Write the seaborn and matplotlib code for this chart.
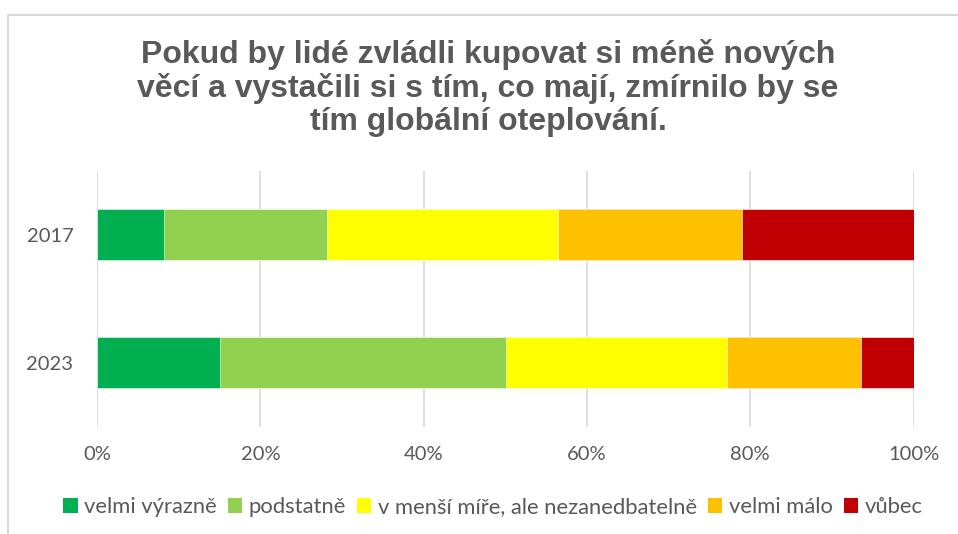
import pandas as pd
import matplotlib.pyplot as plt
import seaborn as sns
from matplotlib.patches import Patch, Rectangle
from matplotlib.ticker import PercentFormatter

# =====================================================
# Data (shares in %)
# =====================================================
years = ["2017", "2023"]
categories = ["velmi výrazně", "podstatně", "v menší míře, ale nezanedbatelně", "velmi málo", "vůbec"]
velmi_vyrazne = [8.2, 15.1]
podstatne = [20.0, 35.0]
v_mensi_mire = [28.3, 27.1]
velmi_malo = [22.5, 16.4]
vubec = [21.0, 6.4]
colors = ["#00b050", "#92d050", "#ffff00", "#ffc000", "#c00000"]

title = ("Pokud by lidé zvládli kupovat si méně nových\n"
         "věcí a vystačili si s tím, co mají, zmírnilo by se\n"
         "tím globální oteplování.")

df = pd.DataFrame({
    "year": years,
    categories[0]: velmi_vyrazne,
    categories[1]: podstatne,
    categories[2]: v_mensi_mire,
    categories[3]: velmi_malo,
    categories[4]: vubec,
})
# cumulative sums -> stacked bars drawn from the longest to the shortest
cum = df[categories].cumsum(axis=1)
cum["year"] = df["year"]

sns.set_style("white")
plt.rcParams["font.family"] = ["Lato", "DejaVu Sans"]
gray = "#595959"

fig = plt.figure(figsize=(9.58, 5.34), dpi=100)
ax = fig.add_axes([97 / 958, 1 - 426.7 / 534, 816.6 / 958, 255.7 / 534])

for cat, col in reversed(list(zip(categories, colors))):
    sns.barplot(data=cum, x=cat, y="year", orient="h", color=col, width=0.4,
                saturation=1, edgecolor="white", linewidth=0.4, ax=ax, zorder=3)

ax.set_xlim(0, 100)
ax.set_xticks(range(0, 101, 20))
ax.xaxis.set_major_formatter(PercentFormatter(decimals=0))
ax.grid(axis="x", color="#d9d9d9", linewidth=1.2, zorder=0)
ax.set_axisbelow(True)
sns.despine(ax=ax, left=True, bottom=True, top=True, right=True)
ax.set_xlabel("")
ax.set_ylabel("")
ax.tick_params(axis="x", length=0, pad=14, labelsize=14.5, labelcolor=gray)
ax.tick_params(axis="y", length=0, pad=17, labelsize=14.5, labelcolor=gray)

fig.text(488 / 958, 1 - 88 / 534, title, ha="center", va="center",
         fontsize=23, fontweight="bold", color=gray, linespacing=1.13,
         family=["Liberation Sans", "DejaVu Sans"])

handles = [Patch(facecolor=c, edgecolor="none") for c in colors]
fig.legend(handles, categories, loc="center", bbox_to_anchor=(493 / 958, 1 - 507 / 534),
           ncol=5, frameon=False, fontsize=15.8, labelcolor=gray,
           handlelength=0.65, handleheight=0.65, handletextpad=0.3, columnspacing=0.5)

# chart frame (left and top edges visible)
fig.patches.append(Rectangle((8 / 958, -0.1), 1.1, 1 - 15 / 534 + 0.1,
                             transform=fig.transFigure, fill=False,
                             edgecolor="#d9d9d9", linewidth=1.5))

fig.savefig("out.png", dpi=100)
